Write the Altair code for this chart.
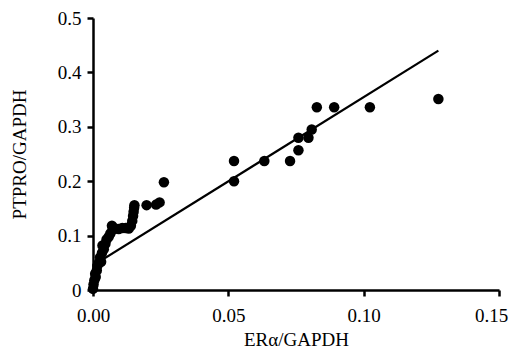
import altair as alt
import pandas as pd

# Scatter data
x_vals = [0.0000, 0.0002, 0.0005, 0.0010, 0.0008, 0.0014, 0.0016, 0.0022, 0.0030, 0.0026,
          0.0033, 0.0040, 0.0035, 0.0046, 0.0050, 0.0058, 0.0064, 0.0072, 0.0070, 0.0082,
          0.0095, 0.0108, 0.0120, 0.0132, 0.0140, 0.0145, 0.0148, 0.0150, 0.0152, 0.0153,
          0.0198, 0.0233, 0.0246, 0.0262,
          0.0521, 0.0521, 0.0633, 0.0728, 0.0759, 0.0759, 0.0796, 0.0808, 0.0827, 0.0891,
          0.1023, 0.1276]
y_vals = [0.002, 0.010, 0.018, 0.024, 0.030, 0.036, 0.044, 0.050, 0.052, 0.060,
          0.068, 0.075, 0.082, 0.085, 0.093, 0.098, 0.104, 0.110, 0.118, 0.113,
          0.112, 0.114, 0.114, 0.113, 0.118, 0.127, 0.136, 0.144, 0.151, 0.156,
          0.156, 0.157, 0.161, 0.198,
          0.237, 0.200, 0.237, 0.237, 0.257, 0.280, 0.280, 0.295, 0.336, 0.336,
          0.336, 0.351]

# Trend line endpoints
line_x = [0.0, 0.1276]
line_y = [0.045, 0.440]

pts = pd.DataFrame({"x": x_vals, "y": y_vals})
ln = pd.DataFrame({"x": line_x, "y": line_y})

FONT = "Liberation Serif"
FS = 19

xscale = alt.Scale(domain=[0, 0.15], nice=False, zero=False)
yscale = alt.Scale(domain=[0, 0.5], nice=False)

xaxis = alt.Axis(title="ERα/GAPDH", values=[0, 0.05, 0.10, 0.15], format=".2f",
                 grid=False, domainColor="black", domainWidth=2.5, tickColor="black",
                 tickWidth=2.5, tickSize=6, labelFont=FONT, labelFontSize=FS,
                 labelColor="black", titleFont=FONT, titleFontSize=FS,
                 titleFontWeight="normal", titleColor="black", labelPadding=10,
                 titlePadding=5, labelFlush=False,
                 labelOffset={"condition": {"test": "datum.value >= 0.149", "value": -8},
                              "value": 0})
yaxis = alt.Axis(title="PTPRO/GAPDH", values=[0, 0.1, 0.2, 0.3, 0.4, 0.5],
                 labelExpr="datum.value == 0 ? '0' : format(datum.value, '.1f')",
                 grid=False, domainColor="black", domainWidth=2.5, tickColor="black",
                 tickWidth=2.5, tickSize=6, labelFont=FONT, labelFontSize=FS,
                 labelColor="black", titleFont=FONT, titleFontSize=FS,
                 titleFontWeight="normal", titleColor="black", labelPadding=6,
                 titlePadding=28, labelFlush=False)

points = alt.Chart(pts).mark_circle(size=110, color="black", opacity=1).encode(
    x=alt.X("x:Q", scale=xscale, axis=xaxis),
    y=alt.Y("y:Q", scale=yscale, axis=yaxis),
)
trend = alt.Chart(ln).mark_line(color="black", strokeWidth=2.2).encode(
    x=alt.X("x:Q", scale=xscale),
    y=alt.Y("y:Q", scale=yscale),
)

chart = (points + trend).properties(
    width=406, height=272,
    autosize=alt.AutoSizeParams(type="none"),
    padding={"left": 85, "top": 10, "right": 10, "bottom": 60},
).configure_view(stroke=None)

chart.save("out.html", embed_options={"renderer": "svg", "actions": False})
